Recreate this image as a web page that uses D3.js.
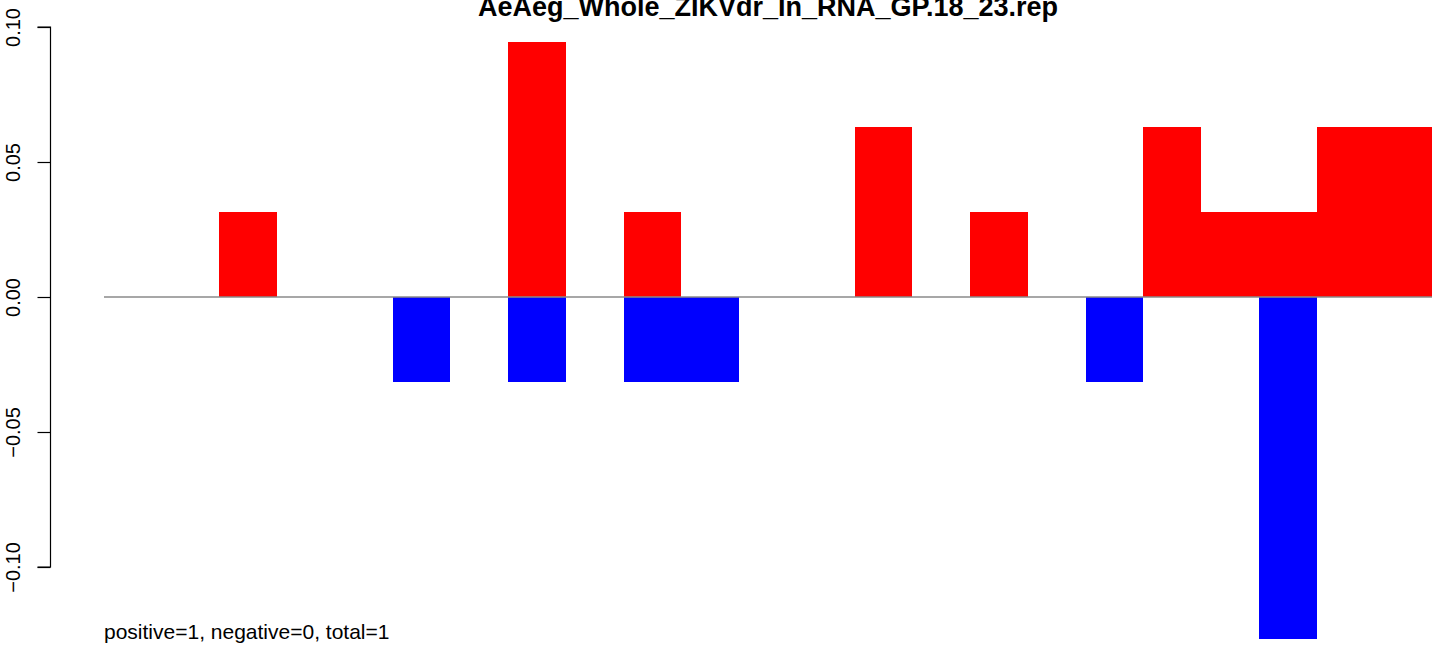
<!DOCTYPE html>
<html><head><meta charset="utf-8">
<script src="https://cdn.jsdelivr.net/npm/d3@7"></script>
<style>body{margin:0;background:#fff;}svg{display:block;font-family:"Liberation Sans",Arial,sans-serif;}</style>
</head><body><svg id="c" width="1452" height="650"></svg>
<script>
const categories = d3.range(1, 24).map(String);
const positiveValues = [0,0,0.0315,0,0,0,0,0.0944,0,0.0315,0,0,0,0.063,0,0.0315,0,0,0.063,0.0315,0.0315,0.063,0.063];
const negativeValues = [0,0,0,0,0,-0.0315,0,-0.0315,0,-0.0315,-0.0315,0,0,0,0,0,0,-0.0315,0,0,-0.1267,0,0];
const yTicks = [-0.10,-0.05,0.00,0.05,0.10];
const title = "AeAeg_Whole_ZIKVdr_In_RNA_GP.18_23.rep";
const note = "positive=1, negative=0, total=1";

const svg = d3.select("#c");
const plotL = 51, plotR = 1485;
const barsL = 104, barsR = 1432;
const x = d3.scaleBand().domain(categories).range([barsL, barsR]).padding(0);
const y = d3.scaleLinear().domain([-0.10, 0.10]).range([567, 27]);

const gBars = svg.append("g").attr("shape-rendering", "crispEdges");
const xl = d => Math.round(x(d));
const xr = d => Math.round(x(d) + x.bandwidth());
gBars.selectAll("rect.pos").data(categories).join("rect").attr("class", "pos")
  .attr("x", xl).attr("width", d => xr(d) - xl(d))
  .attr("y", (d,i) => Math.round(y(positiveValues[i]))).attr("height", (d,i) => Math.round(y(0)) - Math.round(y(positiveValues[i])))
  .attr("fill", "#ff0000");
gBars.selectAll("rect.neg").data(categories).join("rect").attr("class", "neg")
  .attr("x", xl).attr("width", d => xr(d) - xl(d))
  .attr("y", Math.round(y(0))).attr("height", (d,i) => Math.round(y(negativeValues[i])) - Math.round(y(0)))
  .attr("fill", "#0000ff");

// zero line
svg.append("line").attr("x1", barsL).attr("x2", barsR).attr("y1", y(0)).attr("y2", y(0))
  .attr("stroke", "#8a8a8a").attr("stroke-width", 1.3);

// y axis
const ax = svg.append("g").attr("transform", `translate(${plotL - 0.5},0)`)
  .call(d3.axisLeft(y).tickValues(yTicks).tickSize(13).tickPadding(0).tickFormat(d3.format(".2f")));
ax.select(".domain").attr("stroke", "#000").attr("stroke-width", 1.2).attr("d", `M-13,${y(0.10)}H0V${y(-0.10)}H-13`);
ax.selectAll(".tick line").attr("stroke", "#000").attr("stroke-width", 1.2);
ax.selectAll(".tick text").attr("font-size", 20).attr("fill", "#000")
  .attr("text-anchor", "middle").attr("transform", "rotate(-90)")
  .attr("x", 0).attr("y", -31).attr("dy", "0em");

// title
svg.append("text").attr("x", 768).attr("y", 16).attr("text-anchor", "middle")
  .attr("font-size", 27).attr("font-weight", "bold").attr("fill", "#000").text(title);
// note
svg.append("text").attr("x", 104).attr("y", 639).attr("font-size", 21).attr("fill", "#000").text(note);
</script></body></html>
